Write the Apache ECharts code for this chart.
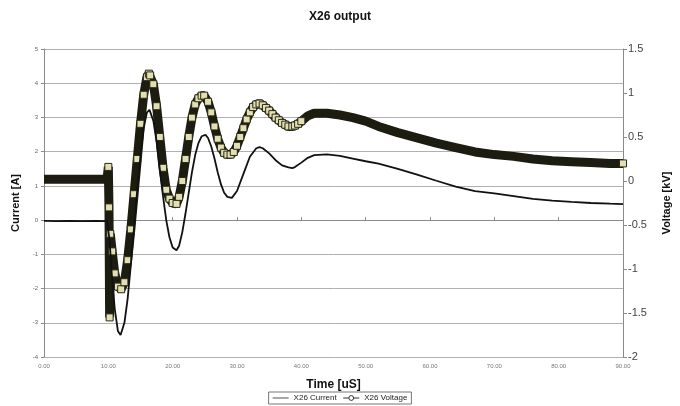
<!DOCTYPE html>
<html>
<head>
<meta charset="utf-8">
<script src="https://cdn.jsdelivr.net/npm/echarts@6/dist/echarts.min.js"></script>
<style>
  html, body { margin: 0; padding: 0; background: #fff; }
  #chart { width: 680px; height: 406px; }
</style>
</head>
<body>
<div id="chart"></div>
<script>
// time axis [uS] for each series
const currentTime = [0, 2, 4, 6, 8, 9.8, 10.0, 10.2, 10.5, 11, 11.5, 11.9, 12.5, 13, 13.5, 14, 14.5, 15, 15.5, 16, 16.4, 17, 17.5, 18, 18.5, 19, 19.5, 20, 20.6, 21, 21.5, 22, 22.5, 23, 23.5, 24, 24.5, 25.1, 25.5, 26, 26.5, 27, 27.5, 28, 28.5, 29.2, 29.5, 30, 31, 32, 33, 33.5, 34, 35, 36, 37, 38, 38.6, 39, 40, 41, 42, 44, 46, 48, 50, 52, 55, 58, 61, 64, 67, 70, 73, 76, 79, 82, 85, 88, 90]
const currentValues = [-0.02, -0.03, -0.02, -0.03, -0.02, -0.03, -0.05, -0.6, -1.5, -2.6, -3.25, -3.36, -3.0, -2.3, -1.3, -0.2, 0.9, 1.9, 2.7, 3.15, 3.22, 2.9, 2.3, 1.5, 0.7, 0.0, -0.5, -0.8, -0.88, -0.75, -0.35, 0.2, 0.8, 1.4, 1.9, 2.25, 2.45, 2.49, 2.4, 2.15, 1.8, 1.4, 1.05, 0.8, 0.68, 0.65, 0.7, 0.85, 1.35, 1.85, 2.1, 2.13, 2.1, 1.95, 1.75, 1.6, 1.54, 1.52, 1.55, 1.68, 1.82, 1.9, 1.92, 1.88, 1.8, 1.72, 1.65, 1.5, 1.33, 1.15, 0.98, 0.85, 0.78, 0.7, 0.62, 0.57, 0.53, 0.5, 0.48, 0.47]

const voltageTime = [0, 1, 2, 3, 4, 5, 6, 7, 8, 9, 9.8, 10.0, 10.1, 10.2, 10.3, 10.6, 11, 11.5, 12, 12.5, 13, 13.5, 14, 14.5, 15, 15.5, 16, 16.3, 16.5, 17, 17.5, 18, 18.5, 19, 19.5, 20, 20.6, 21, 21.5, 22, 22.5, 23, 23.5, 24, 24.5, 24.9, 25.5, 26, 26.5, 27, 27.5, 28, 28.5, 29, 29.5, 30, 30.5, 31, 31.5, 32, 32.5, 33, 33.5, 34, 34.5, 35, 35.5, 36, 36.5, 37, 37.5, 38, 38.6, 39, 39.5, 40, 41, 42, 44, 46, 48, 50, 52, 55, 58, 61, 64, 67, 70, 73, 76, 79, 82, 85, 88, 90]
const voltageValues = [0.02, 0.02, 0.02, 0.02, 0.02, 0.02, 0.02, 0.02, 0.02, 0.02, 0.02, 0.16, -0.3, -1.55, -0.6, -0.8, -1.05, -1.2, -1.23, -1.15, -0.9, -0.55, -0.15, 0.25, 0.65, 0.98, 1.18, 1.22, 1.2, 1.1, 0.85, 0.5, 0.15, -0.1, -0.2, -0.25, -0.26, -0.18, 0.0, 0.25, 0.5, 0.72, 0.87, 0.94, 0.97, 0.97, 0.9, 0.78, 0.62, 0.48, 0.38, 0.32, 0.3, 0.3, 0.33, 0.4, 0.5, 0.6, 0.7, 0.78, 0.84, 0.87, 0.88, 0.86, 0.83, 0.8, 0.76, 0.72, 0.69, 0.66, 0.64, 0.62, 0.62, 0.63, 0.65, 0.68, 0.74, 0.77, 0.77, 0.75, 0.72, 0.68, 0.62, 0.55, 0.49, 0.43, 0.38, 0.33, 0.3, 0.28, 0.25, 0.23, 0.22, 0.21, 0.2, 0.2]

const xTicks = [0, 10, 20, 30, 40, 50, 60, 70, 80, 90]

const chart = echarts.init(document.getElementById('chart'))

const pair = (xs, ys) => xs.map((x, i) => [x, ys[i]])

const axisGray = '#8a8a8a'

chart.setOption({
  animation: false,
  title: {
    text: 'X26 output',
    left: 'center',
    top: 6,
    textStyle: { fontSize: 12, fontWeight: 'bold', color: '#111', fontFamily: 'Liberation Sans' },
  },
  legend: {
    bottom: 2,
    left: 'center',
    itemWidth: 16,
    itemHeight: 6,
    itemGap: 6,
    padding: [2, 4],
    borderColor: '#777',
    borderWidth: 1,
    textStyle: { fontSize: 8, color: '#222', fontFamily: 'Liberation Sans' },
    data: [
      { name: 'X26 Current', icon: 'path://M0,5L20,5L20,6L0,6Z', itemStyle: { color: '#222' } },
      { name: 'X26 Voltage', lineStyle: { width: 1, color: '#333' }, itemStyle: { color: '#fff', borderColor: '#333', borderWidth: 1 } },
    ],
  },
  grid: { left: 44, right: 54, top: 49, bottom: 49 },
  xAxis: {
    type: 'value',
    min: xTicks[0],
    max: xTicks[xTicks.length - 1],
    interval: 10,
    name: 'Time [uS]',
    nameLocation: 'middle',
    nameGap: 22,
    nameTextStyle: { fontSize: 12, fontWeight: 'bold', color: '#111', fontFamily: 'Liberation Sans' },
    axisLine: { lineStyle: { color: axisGray } },
    axisTick: { inside: true, length: 3, lineStyle: { color: axisGray } },
    splitLine: { show: false },
    axisLabel: { fontSize: 6, color: '#777', formatter: (v) => v.toFixed(2), margin: 6 },
  },
  yAxis: [
    {
      type: 'value',
      min: -4,
      max: 5,
      interval: 1,
      name: 'Current [A]',
      nameLocation: 'middle',
      nameGap: 22,
      nameTextStyle: { fontSize: 11, fontWeight: 'bold', color: '#111', fontFamily: 'Liberation Sans' },
      axisLine: { show: true, lineStyle: { color: axisGray } },
      axisTick: { show: true, length: 3, lineStyle: { color: axisGray } },
      splitLine: { lineStyle: { color: '#b0b0b0' } },
      axisLabel: { fontSize: 6, color: '#666', margin: 6 },
    },
    {
      type: 'value',
      min: -2,
      max: 1.5,
      interval: 0.5,
      position: 'right',
      name: 'Voltage [kV]',
      nameLocation: 'middle',
      nameGap: 38,
      nameRotate: 90,
      nameTextStyle: { fontSize: 11, fontWeight: 'bold', color: '#111', fontFamily: 'Liberation Sans' },
      axisLine: { show: true, lineStyle: { color: axisGray } },
      axisTick: { show: true, length: 4, lineStyle: { color: axisGray } },
      splitLine: { show: false },
      axisLabel: { fontSize: 11, color: '#444', margin: 5, fontFamily: 'Liberation Sans' },
    },
  ],
  series: [
    {
      name: 'X26 Voltage',
      type: 'line',
      yAxisIndex: 1,
      data: pair(voltageTime, voltageValues),
      showAllSymbol: true,
      symbol: (v) => (v[0] >= 9.9 && v[0] <= 40) || v[0] === 90 ? 'rect' : 'none',
      symbolSize: 7,
      itemStyle: { color: '#e2dfb2', borderColor: '#2a2a18', borderWidth: 1 },
      lineStyle: { width: 9, color: '#1c1c10' },
      z: 2,
    },
    {
      name: 'X26 Current',
      type: 'line',
      yAxisIndex: 0,
      data: pair(currentTime, currentValues),
      symbol: 'none',
      lineStyle: { width: 1.8, color: '#111' },
      itemStyle: { color: '#111' },
      z: 3,
    },
  ],
})
</script>
</body>
</html>
